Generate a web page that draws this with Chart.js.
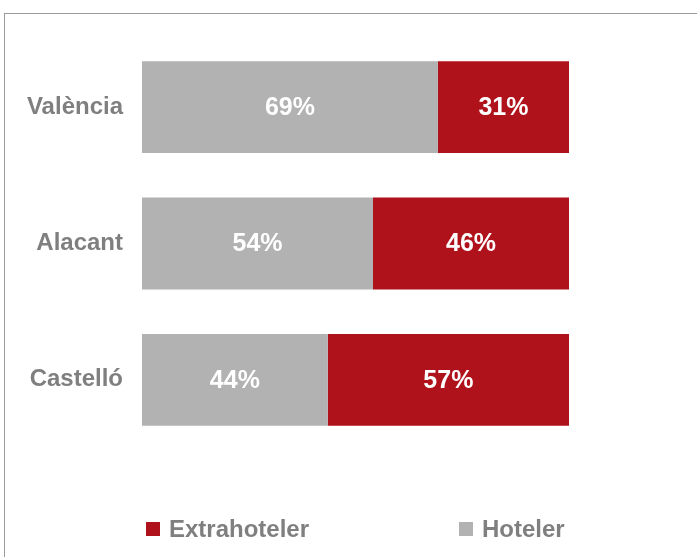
<!DOCTYPE html>
<html lang="ca">
<head>
    <meta charset="UTF-8">
    <title>Hoteler vs Extrahoteler</title>
    <style>
        html, body {
            margin: 0;
            padding: 0;
            background: #ffffff;
            overflow: hidden;
        }
        .frame {
            position: absolute;
            left: 4px;
            top: 13px;
            width: 720px;
            height: 600px;
            border: 1px solid #9a9a9a;
        }
        .chart-box {
            position: absolute;
            left: 0;
            top: 0;
            width: 697px;
            height: 557px;
        }
    </style>
</head>
<body>
    <div class="frame"></div>
    <div class="chart-box">
        <canvas id="chart"></canvas>
    </div>

    <script src="https://cdn.jsdelivr.net/npm/chart.js"></script>
    <script>
        const provinces = ['València', 'Alacant', 'Castelló'];
        const hoteler = [69.3, 54.1, 43.5];
        const extrahoteler = [30.7, 45.9, 56.5];
        const seriesNames = ['Hoteler', 'Extrahoteler'];

        const grey = '#b2b2b2';
        const red = '#b0121b';
        const textGrey = '#7f7f7f';
        const fontFamily = '"Liberation Sans", Arial, sans-serif';

        // white percentages in the middle of each bar piece
        const barLabels = {
            id: 'barLabels',
            afterDatasetsDraw(chart) {
                const ctx = chart.ctx;
                ctx.save();
                ctx.fillStyle = '#ffffff';
                ctx.font = 'bold 25px ' + fontFamily;
                ctx.textAlign = 'center';
                ctx.textBaseline = 'middle';
                chart.data.datasets.forEach((ds, i) => {
                    chart.getDatasetMeta(i).data.forEach((bar, j) => {
                        const cx = (bar.x + bar.base) / 2;
                        ctx.fillText(Math.round(ds.data[j]) + '%', cx, bar.y + 1);
                    });
                });
                ctx.restore();
            }
        };

        // legend along the bottom, Extrahoteler first
        const bottomLegend = {
            id: 'bottomLegend',
            afterDraw(chart) {
                const ctx = chart.ctx;
                const items = [
                    { name: seriesNames[1], color: red, x: 146 },
                    { name: seriesNames[0], color: grey, x: 459 }
                ];
                ctx.save();
                ctx.font = 'bold 24px ' + fontFamily;
                ctx.textBaseline = 'middle';
                ctx.textAlign = 'left';
                items.forEach(it => {
                    ctx.fillStyle = it.color;
                    ctx.fillRect(it.x, 522, 14, 14);
                    ctx.fillStyle = textGrey;
                    ctx.fillText(it.name, it.x + 23, 530);
                });
                ctx.restore();
            }
        };

        new Chart(document.getElementById('chart'), {
            type: 'bar',
            data: {
                labels: provinces,
                datasets: [
                    {
                        label: seriesNames[0],
                        data: hoteler,
                        backgroundColor: grey,
                        categoryPercentage: 1,
                        barPercentage: 0.674
                    },
                    {
                        label: seriesNames[1],
                        data: extrahoteler,
                        backgroundColor: red,
                        categoryPercentage: 1,
                        barPercentage: 0.674
                    }
                ]
            },
            options: {
                indexAxis: 'y',
                responsive: true,
                maintainAspectRatio: false,
                animation: false,
                layout: {
                    padding: { top: 39, bottom: 109, left: 0, right: 128 }
                },
                scales: {
                    x: {
                        stacked: true,
                        min: 0,
                        max: 100,
                        display: false
                    },
                    y: {
                        stacked: true,
                        grid: { display: false, drawTicks: false },
                        border: { display: false },
                        ticks: {
                            color: textGrey,
                            padding: 19,
                            font: { family: fontFamily, size: 24, weight: 'bold' }
                        },
                        afterFit(scale) {
                            scale.width = 142;
                        }
                    }
                },
                plugins: {
                    legend: { display: false },
                    tooltip: { enabled: false }
                }
            },
            plugins: [barLabels, bottomLegend]
        });
    </script>
</body>
</html>
